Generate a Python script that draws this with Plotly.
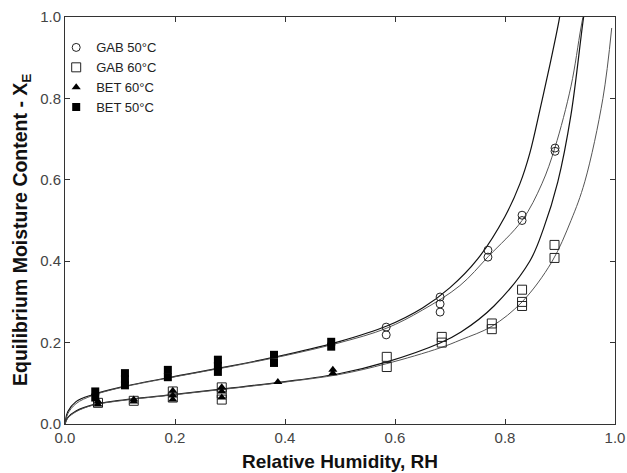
import plotly.graph_objects as go

# ---- data ----
gab50_x = [0.584, 0.584, 0.682, 0.682, 0.682, 0.769, 0.769, 0.831, 0.831, 0.891, 0.891]
gab50_y = [0.238, 0.219, 0.312, 0.295, 0.275, 0.427, 0.410, 0.513, 0.500, 0.678, 0.670]

gab60_x = [0.06, 0.125, 0.196, 0.196, 0.285, 0.285, 0.285,
           0.585, 0.585, 0.685, 0.685, 0.776, 0.776, 0.831, 0.831, 0.831, 0.890, 0.890]
gab60_y = [0.052, 0.057, 0.080, 0.065, 0.090, 0.075, 0.060,
           0.165, 0.140, 0.214, 0.200, 0.247, 0.233, 0.330, 0.300, 0.290, 0.440, 0.408]

bet60_x = [0.06, 0.06, 0.125, 0.125, 0.196, 0.196, 0.196, 0.285, 0.285, 0.285, 0.387, 0.487, 0.487]
bet60_y = [0.055, 0.048, 0.060, 0.055, 0.082, 0.070, 0.060, 0.090, 0.080, 0.065, 0.103, 0.133, 0.125]

bet50_x = [0.055, 0.055, 0.109, 0.109, 0.109, 0.187, 0.187, 0.278, 0.278, 0.278, 0.380, 0.380, 0.484, 0.484]
bet50_y = [0.080, 0.065, 0.125, 0.110, 0.095, 0.133, 0.115, 0.158, 0.143, 0.128, 0.170, 0.150, 0.202, 0.190]

# fitted curves
curveA_x = [0, 0.005, 0.02, 0.05, 0.1, 0.2, 0.3, 0.4, 0.5, 0.584, 0.65, 0.70, 0.75, 0.80, 0.827, 0.845, 0.864, 0.882, 0.898, 0.903]
curveA_y = [0, 0.030, 0.055, 0.072, 0.090, 0.117, 0.142, 0.170, 0.203, 0.240, 0.285, 0.335, 0.405, 0.510, 0.590, 0.665, 0.775, 0.885, 0.990, 1.03]

curveB_x = [0, 0.005, 0.02, 0.05, 0.1, 0.2, 0.3, 0.4, 0.5, 0.584, 0.65, 0.718, 0.77, 0.831, 0.867, 0.891, 0.92, 0.938, 0.946]
curveB_y = [0, 0.025, 0.050, 0.070, 0.089, 0.116, 0.141, 0.168, 0.200, 0.235, 0.280, 0.340, 0.412, 0.500, 0.590, 0.680, 0.830, 0.973, 1.03]

curveC_x = [0, 0.005, 0.02, 0.05, 0.1, 0.2, 0.3, 0.4, 0.5, 0.584, 0.682, 0.72, 0.78, 0.845, 0.87, 0.896, 0.92, 0.943, 0.947]
curveC_y = [0, 0.016, 0.032, 0.047, 0.058, 0.073, 0.088, 0.104, 0.124, 0.152, 0.199, 0.226, 0.290, 0.400, 0.480, 0.595, 0.760, 1.000, 1.03]

curveD_x = [0, 0.005, 0.02, 0.05, 0.1, 0.2, 0.3, 0.4, 0.5, 0.584, 0.682, 0.72, 0.776, 0.831, 0.885, 0.92, 0.945, 0.978, 0.994]
curveD_y = [0, 0.014, 0.030, 0.046, 0.057, 0.072, 0.087, 0.103, 0.122, 0.148, 0.187, 0.207, 0.240, 0.300, 0.398, 0.500, 0.595, 0.800, 0.973]

x_ticks = [0.0, 0.2, 0.4, 0.6, 0.8, 1.0]
y_ticks = [0.0, 0.2, 0.4, 0.6, 0.8, 1.0]

FONT = "Liberation Sans, Arial, sans-serif"

fig = go.Figure()

for cx, cy, col, w in [(curveA_x, curveA_y, "#111111", 1.2), (curveB_x, curveB_y, "#555555", 1.0),
                       (curveC_x, curveC_y, "#111111", 1.2), (curveD_x, curveD_y, "#555555", 1.0)]:
    fig.add_trace(go.Scatter(x=cx, y=cy, mode="lines", showlegend=False,
                             line=dict(color=col, width=w, shape="spline", smoothing=1.0),
                             hoverinfo="skip"))

fig.add_trace(go.Scatter(x=gab50_x, y=gab50_y, mode="markers", name="GAB 50°C",
                         marker=dict(symbol="circle-open", size=8, color="#222", line=dict(width=1))))
fig.add_trace(go.Scatter(x=gab60_x, y=gab60_y, mode="markers", name="GAB 60°C",
                         marker=dict(symbol="square-open", size=9, color="#222", line=dict(width=1))))
fig.add_trace(go.Scatter(x=bet60_x, y=bet60_y, mode="markers", name="BET 60°C",
                         marker=dict(symbol="triangle-up", size=8, color="#000")))
fig.add_trace(go.Scatter(x=bet50_x, y=bet50_y, mode="markers", name="BET 50°C",
                         marker=dict(symbol="square", size=8, color="#000")))

axis_common = dict(showgrid=False, zeroline=False, showline=True, linecolor="#333", linewidth=1,
                   mirror="ticks", ticks="inside", ticklen=5, tickcolor="#333", automargin=False,
                   tickfont=dict(family=FONT, size=15, color="#444"))

fig.update_xaxes(range=[0, 1], tickvals=x_ticks, ticktext=[f"{v:.1f}" for v in x_ticks], **axis_common)
fig.update_yaxes(range=[0, 1], tickvals=y_ticks, ticktext=[f"{v:.1f}" for v in y_ticks], **axis_common)

fig.add_annotation(text="<b>Relative Humidity, RH</b>", xref="paper", yref="paper",
                   x=0.5, y=-0.093, xanchor="center", yanchor="middle", showarrow=False,
                   font=dict(family=FONT, size=19, color="#111"))
fig.add_annotation(text="<b>Equilibrium Moisture Content - X<sub>E</sub></b>", xref="paper", yref="paper",
                   x=-0.078, y=0.477, xanchor="center", yanchor="middle", showarrow=False, textangle=-90,
                   font=dict(family=FONT, size=19.5, color="#111"))

fig.update_layout(
    width=627, height=473,
    margin=dict(l=65, r=12, t=17, b=49),
    paper_bgcolor="white", plot_bgcolor="white",
    font=dict(family=FONT, color="#222"),
    legend=dict(x=-0.016, y=0.962, xanchor="left", yanchor="top",
                bgcolor="rgba(0,0,0,0)", font=dict(family=FONT, size=13, color="#222"),
                tracegroupgap=0),
)

fig.write_html("out.html", config={"displayModeBar": False},
               post_script="document.body.style.margin='0px';")
